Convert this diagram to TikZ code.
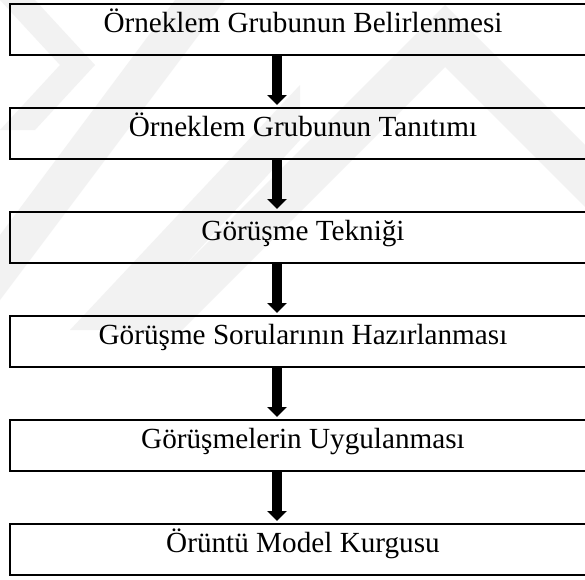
\documentclass[tikz,border=0pt]{standalone}
\usepackage{fontspec}
\setmainfont{Liberation Serif}
\usetikzlibrary{arrows.meta}

\tikzset{
  stepbox/.style={draw=black, line width=1.8pt, rectangle, inner sep=0pt,
    minimum width=586pt, text height=29pt, text depth=22pt, anchor=north,
    font=\fontsize{29.2}{33}\selectfont},
  flow/.style={line width=10pt, -{Triangle[length=10pt,width=19pt]}},
  mark band/.style={fill=black!5, draw=none},
}

\begin{document}
\begin{tikzpicture}[x=1pt, y=-1pt]
  \useasboundingbox (0,0) rectangle (585,579);
  \clip (0,0) rectangle (585,579);
  \fill[white] (0,0) rectangle (585,579);

  % faint background bands
  \fill[mark band] (120,330) -- (445,5) -- (600,160) -- (600,222) -- (445,67) -- (182,330) -- cycle;
  \fill[mark band] (0,235) -- (175,0) -- (225,0) -- (0,300) -- cycle;
  \fill[mark band] (70,330) -- (300,85) -- (300,140) -- (125,330) -- cycle;
  \fill[mark band] (0,0) -- (35,0) -- (95,65) -- (35,130) -- (0,130) -- (60,65) -- cycle;

  % process steps
  \node[stepbox] (b1) at (303,3)   {Örneklem Grubunun Belirlenmesi};
  \node[stepbox] (b2) at (303,107) {Örneklem Grubunun Tanıtımı};
  \node[stepbox] (b3) at (303,211) {Görüşme Tekniği};
  \node[stepbox] (b4) at (303,315) {Görüşme Sorularının Hazırlanması};
  \node[stepbox] (b5) at (303,419) {Görüşmelerin Uygulanması};
  \node[stepbox] (b6) at (303,523) {Örüntü Model Kurgusu};

  % arrows between steps
  \foreach \a/\b in {b1/b2, b2/b3, b3/b4, b4/b5, b5/b6}
    \draw[flow] ([xshift=-26pt]\a.south) -- ([xshift=-26pt,yshift=2pt]\b.north);
\end{tikzpicture}
\end{document}
